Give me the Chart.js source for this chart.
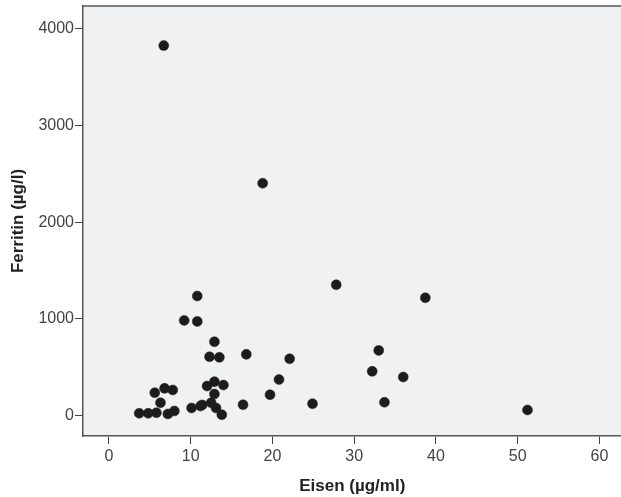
<!DOCTYPE html>
<html>
<head>
<meta charset="utf-8">
<script src="https://cdn.jsdelivr.net/npm/chart.js@4"></script>
<style>
  body { margin: 0; background: #fff; overflow: hidden; }
  #wrap { width: 627px; height: 497px; }
</style>
</head>
<body>
<div id="wrap"><canvas id="scatter-chart"></canvas></div>
<script>
// Eisen vs Ferritin

const eisen = [
  6.7, 18.8, 27.8, 38.7, 10.8, 9.2, 10.8, 12.9, 33.0, 12.3,
  13.5, 16.8, 22.1, 32.2, 36.0, 20.8, 12.0, 12.9, 14.0, 19.7,
  12.9, 24.9, 33.7, 16.4, 51.2, 5.6, 6.8, 7.8, 6.3, 3.7,
  4.8, 5.8, 7.2, 8.0, 10.1, 11.2, 12.5, 13.1, 13.8, 11.4
];
const ferritin = [
  3828, 2404, 1353, 1218, 1236, 984, 974, 763, 674, 608,
  602, 633, 587, 457, 398, 372, 305, 350, 315, 215,
  222, 122, 137, 112, 57, 236, 281, 264, 132, 23,
  23, 29, 16, 47, 78, 98, 132, 78, 8, 110
];
const xTicks = [0, 10, 20, 30, 40, 50, 60];
const yTicks = [0, 1000, 2000, 3000, 4000];

const points = eisen.map(function (x, i) {
  return { x: x, y: ferritin[i] };
});

const plotFrame = {
  id: "plotFrame",
  beforeDraw: function (chart) {
    const a = chart.chartArea;
    const ctx = chart.ctx;
    ctx.save();
    ctx.fillStyle = "#f0f1f3";
    ctx.fillRect(a.left, a.top, a.right - a.left, a.bottom - a.top);
    ctx.strokeStyle = "#555";
    ctx.lineWidth = 1.5;
    ctx.beginPath();
    ctx.moveTo(a.right, a.top);
    ctx.lineTo(a.left, a.top);
    ctx.stroke();
    ctx.restore();
  },
};

const scatterCtx = document.getElementById("scatter-chart").getContext("2d");
const scatterChart = new Chart(scatterCtx, {
  type: "scatter",
  data: {
    datasets: [
      {
        data: points,
        backgroundColor: "#1c1c1c",
        borderColor: "#2a2a2a",
        borderWidth: 0.5,
        pointRadius: 5,
      },
    ],
  },
  options: {
    responsive: true,
    maintainAspectRatio: false,
    animation: false,
    layout: {
      padding: { top: 6, right: 0, left: 0, bottom: 0 },
    },
    plugins: {
      legend: { display: false },
      tooltip: { enabled: false },
    },
    scales: {
      x: {
        min: -3.18,
        max: 62.7,
        afterBuildTicks: function (scale) {
          scale.ticks = xTicks.map(function (v) { return { value: v }; });
        },
        afterFit: function (scale) {
          scale.height = 61;
        },
        grid: {
          drawOnChartArea: false,
          drawTicks: true,
          tickLength: 8,
          color: "#444",
        },
        border: { display: true, color: "#555", width: 1.5 },
        ticks: {
          color: "#444",
          padding: 3,
          font: { family: "Liberation Sans, Arial", size: 16 },
          callback: function (value) {
            return String(value);
          },
        },
        title: {
          display: true,
          text: "Eisen (µg/ml)",
          color: "#222",
          padding: { top: 8, bottom: 0 },
          font: { family: "Liberation Sans, Arial", size: 17, weight: "bold" },
        },
      },
      y: {
        min: -212,
        max: 4238,
        afterBuildTicks: function (scale) {
          scale.ticks = yTicks.map(function (v) { return { value: v }; });
        },
        afterFit: function (scale) {
          scale.width = 83;
          scale.paddingTop = 0;
          scale.paddingBottom = 0;
        },
        grid: {
          drawOnChartArea: false,
          drawTicks: true,
          tickLength: 8,
          color: "#444",
        },
        border: { display: true, color: "#555", width: 1.5 },
        ticks: {
          color: "#444",
          padding: 1,
          font: { family: "Liberation Sans, Arial", size: 16 },
          callback: function (value) {
            return String(value);
          },
        },
        title: {
          display: true,
          text: "Ferritin (µg/l)",
          color: "#222",
          padding: { top: 8, bottom: 0 },
          font: { family: "Liberation Sans, Arial", size: 17, weight: "bold" },
        },
      },
    },
  },
  plugins: [plotFrame],
});
</script>
</body>
</html>
